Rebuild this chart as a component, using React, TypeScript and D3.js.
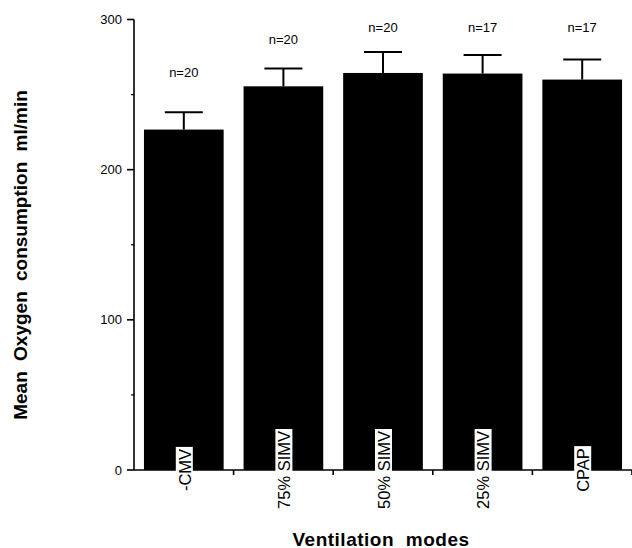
import React from "react";
import * as d3 from "d3";

const categories = ["-CMV", "75% SIMV", "50% SIMV", "25% SIMV", "CPAP"];
const means = [226.7, 255.5, 264.4, 264, 260];
const sems = [11.5, 11.8, 14, 12.4, 13.3];
const nValues = [20, 20, 20, 17, 17];
const nLabelAt = [264.5, 286.5, 294.5, 295, 295];
const yTicks = [0, 100, 200, 300];
const yMinorTicks = [50, 150, 250];

const W = 632;
const H = 548;
const FONT = "'Liberation Sans', Arial, Helvetica, sans-serif";

export default function App() {
  const y = d3.scaleLinear().domain([0, 300]).range([470, 19.5]);
  const x = d3
    .scaleBand<string>()
    .domain(categories)
    .range([134, 632])
    .paddingInner(0.2)
    .paddingOuter(0.1);
  const step = x.step();
  const x0 = 134;
  const bw = x.bandwidth();
  const capHalf = 19;

  return (
    <svg
      width={W}
      height={H}
      style={{ position: "absolute", left: 0, top: 0, background: "#fff", fontFamily: FONT }}
    >
      <rect x={0} y={0} width={W} height={H} fill="#fff" />
      {categories.map((c, i) => {
        const cx = (x(c) as number) + bw / 2;
        return (
          <g key={c}>
            <rect
              x={x(c) as number}
              y={y(means[i])}
              width={bw}
              height={y(0) - y(means[i])}
              fill="#000"
            />
            <line
              x1={cx}
              x2={cx}
              y1={y(means[i])}
              y2={y(means[i] + sems[i])}
              stroke="#000"
              strokeWidth={2}
            />
            <line
              x1={cx - capHalf}
              x2={cx + capHalf}
              y1={y(means[i] + sems[i])}
              y2={y(means[i] + sems[i])}
              stroke="#000"
              strokeWidth={2}
            />
            <text
              x={cx}
              y={y(nLabelAt[i])}
              dy="0.35em"
              textAnchor="middle"
              fontSize={13}
              fontFamily={FONT}
              fill="#000"
            >
              {`n=${nValues[i]}`}
            </text>
          </g>
        );
      })}
      <line x1={134} x2={134} y1={y(300)} y2={y(0)} stroke="#000" strokeWidth={1.6} />
      {yTicks.map((t) => (
        <g key={t}>
          <line x1={127} x2={134} y1={y(t)} y2={y(t)} stroke="#000" strokeWidth={1.6} />
          <text
            x={122}
            y={y(t)}
            dy="0.35em"
            textAnchor="end"
            fontSize={13}
            fontFamily={FONT}
            fill="#000"
          >
            {t}
          </text>
        </g>
      ))}
      {yMinorTicks.map((t) => (
        <line key={t} x1={131} x2={134} y1={y(t)} y2={y(t)} stroke="#000" strokeWidth={1.2} />
      ))}
      <line x1={134} x2={632} y1={y(0)} y2={y(0)} stroke="#000" strokeWidth={1.6} />
      {categories.map((c, i) => (
        <line
          key={"t" + c}
          x1={x0 + (i + 1) * step}
          x2={x0 + (i + 1) * step}
          y1={y(0)}
          y2={y(0) + 5}
          stroke="#000"
          strokeWidth={1.6}
        />
      ))}
      {categories.map((c) => {
        const cx = (x(c) as number) + bw / 2;
        return (
          <g key={"l" + c} transform={`translate(${cx + 1},${y(0)}) rotate(-90)`}>
            <CatLabel text={c} />
          </g>
        );
      })}
      <text
        x={381}
        y={545.5}
        textAnchor="middle"
        fontSize={19}
        fontWeight="bold"
        fontFamily={FONT}
        letterSpacing={0.5}
        wordSpacing={6}
        fill="#000"
      >
        Ventilation modes
      </text>
      <text
        transform={`translate(27,255) rotate(-90)`}
        textAnchor="middle"
        fontSize={19}
        fontWeight="bold"
        fontFamily={FONT}
        wordSpacing={5}
        fill="#000"
      >
        Mean Oxygen consumption ml/min
      </text>
    </svg>
  );
}

function CatLabel({ text }: { text: string }) {
  const ref = React.useRef<SVGTextElement>(null);
  const [w, setW] = React.useState(0);
  React.useLayoutEffect(() => {
    if (ref.current) setW(ref.current.getComputedTextLength());
  }, [text]);
  return (
    <g>
      {w > 0 && (
        <rect x={-w / 2 - 2} y={-9} width={w + 4} height={17} fill="#fff" />
      )}
      <text
        ref={ref}
        x={0}
        y={0}
        dy="0.35em"
        textAnchor="middle"
        fontSize={16.5}
        fontFamily={FONT}
        fill="#000"
      >
        {text}
      </text>
    </g>
  );
}
